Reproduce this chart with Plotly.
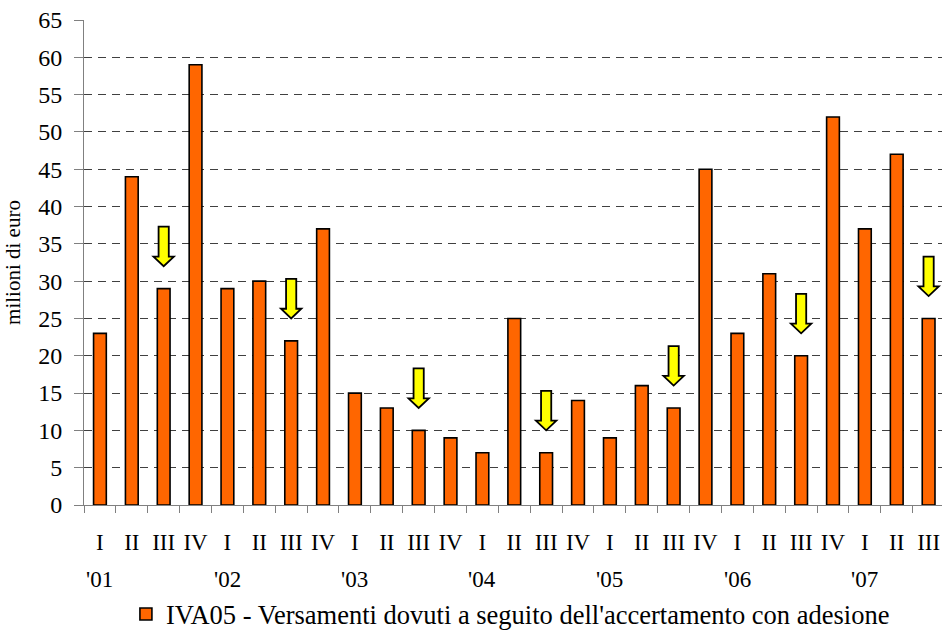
import plotly.graph_objects as go

quarters = ["I", "II", "III", "IV"] * 6 + ["I", "II", "III"]
years = ["'01", "'02", "'03", "'04", "'05", "'06", "'07"]
values = [23, 44, 29, 59,
          29, 30, 22, 37,
          15, 13, 10, 9,
          7, 25, 7, 14,
          9, 16, 13, 45,
          23, 31, 20, 52,
          37, 47, 25]
series_name = "IVA05 - Versamenti dovuti a seguito dell'accertamento con adesione"

xs = list(range(len(values)))
FONT = "Liberation Serif, Times New Roman, serif"

fig = go.Figure()
fig.add_trace(go.Bar(
    x=xs, y=values, width=0.4, name=series_name,
    marker=dict(color="#FF6600", line=dict(color="black", width=1.6)),
))

# yellow down arrows above each third-quarter bar
shapes = []
for i, (q, v) in enumerate(zip(quarters, values)):
    if q != "III":
        continue
    sw, hw = 0.16, 0.32
    top, hs, tip = v + 8.3, v + 4.3, v + 3.0
    path = (f"M {i-sw},{top} L {i+sw},{top} L {i+sw},{hs} L {i+hw},{hs} "
            f"L {i},{tip} L {i-hw},{hs} L {i-sw},{hs} Z")
    shapes.append(dict(type="path", path=path, xref="x", yref="y",
                       fillcolor="#FFFF00", line=dict(color="black", width=1.8), layer="above"))

annotations = []
for k, yr in enumerate(years):
    annotations.append(dict(x=4 * k, y=-0.153, xref="x", yref="paper", text=yr,
                            showarrow=False, font=dict(family=FONT, size=23, color="black"),
                            xanchor="center", yanchor="middle"))

fig.update_layout(
    width=942, height=632,
    margin=dict(l=84, r=0, t=20, b=127),
    paper_bgcolor="white", plot_bgcolor="white",
    font=dict(family=FONT, color="black"),
    shapes=shapes, annotations=annotations,
    showlegend=True,
    legend=dict(orientation="h", x=0.497, xanchor="center", xref="paper",
                y=0.028, yanchor="middle", yref="container",
                font=dict(family=FONT, size=26.5, color="black"), bgcolor="rgba(0,0,0,0)"),
    bargap=0.6,
)
fig.update_xaxes(
    range=[-0.5, 26.42], tickmode="array", tickvals=xs, ticktext=quarters,
    ticks="", showgrid=False, zeroline=False, automargin=False,
    showline=True, linecolor="#808080", linewidth=1,
    tickfont=dict(family=FONT, size=23, color="black"),
    ticklabelstandoff=16,
    minor=dict(tickmode="linear", tick0=-0.5, dtick=1, ticks="outside", ticklen=7,
               tickcolor="#808080", showgrid=False),
)
fig.update_yaxes(
    range=[0, 65], tickmode="linear", tick0=0, dtick=5,
    ticks="outside", ticklen=9, tickcolor="#808080", automargin=False,
    ticklabelstandoff=7,
    showgrid=True, gridcolor="#404040", griddash="8px,6px", gridwidth=1,
    zeroline=False, showline=True, linecolor="#808080", linewidth=1,
    tickfont=dict(family=FONT, size=24, color="black"),
    title=dict(text="milioni di euro", font=dict(family=FONT, size=21, color="black"), standoff=11),
)
fig.write_html("out.html", config={"displayModeBar": False},
               post_script="document.body.style.margin='0';")
